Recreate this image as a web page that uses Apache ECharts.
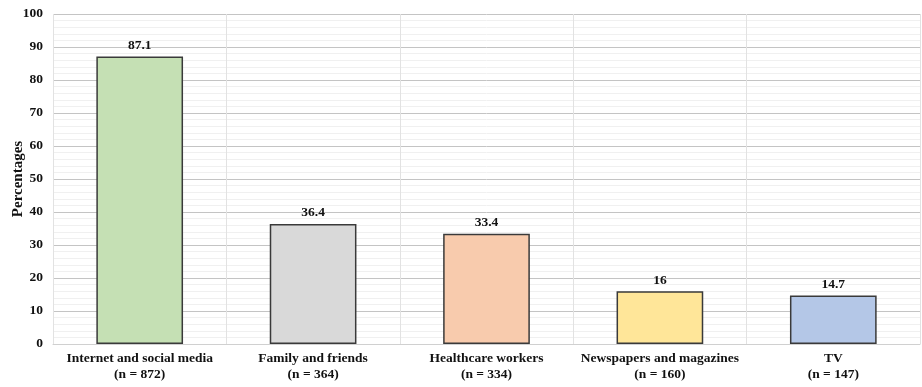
<!DOCTYPE html>
<html><head><meta charset="utf-8">
<script src="https://cdn.jsdelivr.net/npm/echarts@6/dist/echarts.min.js"></script>
<style>html,body{margin:0;padding:0;background:#fff}#c{width:922px;height:387px}</style>
</head><body><div id="c"></div>
<script>
const categories = ['Internet and social media\n(n = 872)', 'Family and friends\n(n = 364)', 'Healthcare workers\n(n = 334)', 'Newspapers and magazines\n(n = 160)', 'TV\n(n = 147)'];
const values = [87.1, 36.4, 33.4, 16, 14.7];
const colors = ['#c5e0b4', '#d9d9d9', '#f8cbad', '#ffe699', '#b4c7e7'];
const font = 'Liberation Serif';
const chart = echarts.init(document.getElementById('c'));
chart.setOption({
  animation: false,
  grid: {left: 53, right: 2, top: 14, bottom: 43, outerBoundsMode: 'none', containLabel: false},
  xAxis: {
    type: 'category', data: categories,
    axisLine: {show: true, lineStyle: {color: '#d0d0d0'}},
    axisTick: {show: false},
    splitLine: {show: true, lineStyle: {color: '#e2e2e2', width: 1}},
    axisLabel: {color: '#111', fontFamily: font, fontWeight: 'bold', fontSize: 13.5, lineHeight: 16, margin: 7, interval: 0}
  },
  yAxis: {
    type: 'value', min: 0, max: 100, interval: 10,
    name: 'Percentages', nameLocation: 'middle', nameGap: 27, nameRotate: 90, nameMoveOverlap: false,
    nameTextStyle: {color: '#111', fontFamily: font, fontWeight: 'bold', fontSize: 15},
    axisLine: {show: false}, axisTick: {show: false},
    axisLabel: {color: '#111', fontFamily: font, fontWeight: 'bold', fontSize: 13.5, margin: 10},
    splitLine: {lineStyle: {color: '#c4c4c4', width: 1}},
    minorTick: {show: false, splitNumber: 5},
    minorSplitLine: {show: true, lineStyle: {color: '#f0f0f0', width: 1}}
  },
  series: [{
    type: 'bar', barWidth: '50%',
    data: values.map((v, i) => ({value: v, itemStyle: {color: colors[i]}})),
    itemStyle: {borderColor: '#3a3a3a', borderWidth: 1.5},
    label: {show: true, position: 'top', distance: 4, color: '#111', fontFamily: font, fontWeight: 'bold', fontSize: 13.5}
  }]
});
</script></body></html>
